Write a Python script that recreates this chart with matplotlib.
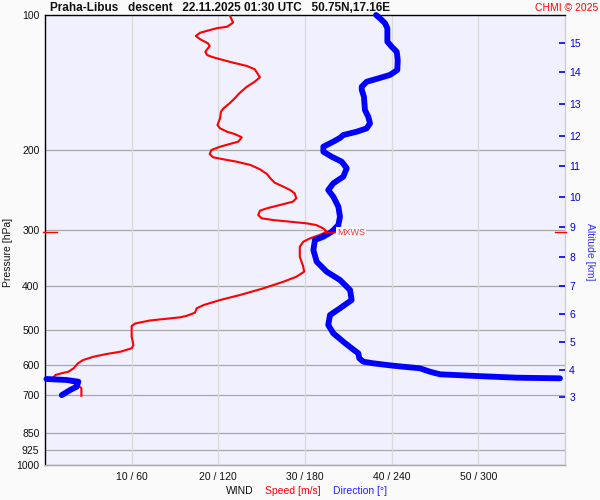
import numpy as np
import matplotlib
matplotlib.use("Agg")
import matplotlib.pyplot as plt
from matplotlib.ticker import NullLocator
from matplotlib.transforms import blended_transform_factory

plt.rcParams['font.family'] = ['Liberation Sans', 'DejaVu Sans']

# ---- data -----------------------------------------------------------
p_levels = [100, 200, 300, 400, 500, 600, 700, 850, 925, 1000]
speed_ticks = [10, 20, 30, 40, 50]
speed_tick_labels = ["10 / 60", "20 / 120", "30 / 180", "40 / 240", "50 / 300"]

p_speed = [100, 104.0, 106.2, 107.0, 109.5, 111.3, 113.2, 115.6, 117.2, 120.7,
           122.7, 123.8, 125.4, 127.6, 129.8, 132.0, 137.5, 140.7, 144.3, 148.8,
           153.1, 157.1, 161.2, 164.0, 169.6, 175.6, 178.6, 181.7, 183.9, 187.0,
           191.2, 193.5, 196.2, 199.5, 203.7, 207.1, 209.3, 211.8, 215.4, 220.2,
           225.6, 230.6, 235.9, 240.7, 244.9, 249.0, 255.5, 259.9, 264.4, 268.9,
           272.2, 278.3, 283.0, 285.5, 288.0, 290.4, 292.9, 297.9, 303.1, 308.2,
           313.5, 319.0, 327.3, 344.5, 362.6, 371.9, 381.6, 391.5, 404.9, 419.0,
           429.9, 441.1, 448.5, 458.7, 465.8, 469.7, 477.4, 484.8, 491.0, 501.2,
           518.6, 541.2, 550.4, 560.1, 566.7, 574.6, 584.4, 594.3, 609.7, 620.4,
           625.5, 631.0, 641.8, 647.3, 664.1, 675.5, 687.4, 701.6]
speed = [21.3, 21.7, 21.0, 19.8, 17.9, 17.4, 17.9, 18.8, 19.0, 18.5,
         18.7, 19.2, 20.2, 21.7, 23.3, 24.2, 24.8, 24.2, 23.3, 22.5,
         21.9, 21.3, 20.6, 20.3, 20.2, 19.9, 20.2, 21.0, 21.9, 22.7,
         22.3, 21.3, 20.2, 19.2, 19.0, 19.4, 20.6, 22.1, 23.7, 24.8,
         25.6, 26.0, 26.5, 27.5, 28.3, 28.8, 29.0, 28.6, 27.1, 25.6,
         24.8, 24.6, 25.0, 26.3, 28.3, 30.2, 31.3, 32.1, 32.5, 31.7,
         30.6, 29.8, 29.4, 29.4, 29.8, 29.9, 29.0, 27.5, 25.2, 22.5,
         20.2, 18.3, 17.5, 17.3, 16.4, 15.6, 12.1, 10.4, 10.0, 10.0,
         10.0, 10.2, 10.0, 8.7, 7.1, 5.6, 4.4, 3.8, 3.3, 2.7,
         1.9, 1.2, 0.9, 2.3, 3.8, 4.2, 4.2, 4.2]

p_dir = [100, 101.7, 104.3, 107.0, 114.6, 117.6, 120.7, 125.9, 132.5, 135.9,
         138.3, 140.7, 144.3, 146.8, 151.9, 162.6, 168.3, 174.1, 178.6, 181.7,
         184.8, 187.6, 191.2, 196.2, 201.3, 206.5, 211.8, 219.1, 228.7, 236.6,
         244.9, 253.4, 266.7, 280.7, 292.9, 303.1, 311.0, 316.2, 332.9, 353.4,
         371.9, 388.0, 408.5, 429.9, 448.5, 464.2, 488.5, 509.7, 532.1, 550.4,
         564.7, 579.3, 589.5, 594.3, 601.7, 609.7, 620.4, 628.7, 634.2, 639.7,
         641.8, 644.0, 647.3, 652.9, 670.0, 681.6, 699.4]
direction = [229.2, 231.9, 235.4, 237.0, 237.0, 240.0, 243.5, 244.2, 243.9, 238.8,
             230.8, 222.7, 219.3, 219.3, 220.8, 221.5, 223.8, 225.0, 222.7, 215.8,
             206.5, 204.2, 199.6, 192.7, 192.7, 198.5, 205.4, 208.9, 206.5, 199.6,
             196.1, 199.6, 203.1, 204.2, 203.1, 198.5, 192.7, 186.9, 185.8, 188.1,
             195.0, 204.2, 211.2, 212.3, 204.2, 197.3, 196.1, 199.6, 206.5, 212.3,
             216.9, 217.6, 220.4, 227.3, 241.1, 259.6, 266.5, 273.5, 298.9, 326.6,
             356.5, 1.0, 15.0, 23.1, 21.9, 17.3, 11.6]

alt_km = [3, 4, 5, 6, 7, 8, 9, 10, 11, 12, 13, 14, 15]
alt_p = [705.0, 614.1, 533.0, 461.8, 399.6, 345.0, 295.9, 253.4, 216.3, 185.4,
         157.6, 133.8, 115.2]

mxws_p = 303.1
mxws_speed = 32.5

# ---- figure ---------------------------------------------------------
W, H = 600, 500
fig = plt.figure(figsize=(6, 5), dpi=100, facecolor='#FAFAFA')
ax = fig.add_axes([45 / W, 1 - 465 / H, 520 / W, 450 / H])
ax.set_facecolor('#F0F0FF')
ax.set_yscale('log')
ax.set_ylim(1000, 100)
ax.set_xlim(0, 60)

for p in p_levels[1:]:
    ax.axhline(p, color='#A8A8A8', lw=0.9, zorder=1)
for s in speed_ticks:
    ax.axvline(s, color='#DADADA', lw=0.9, zorder=1)

ax.spines['left'].set_color('black')
ax.spines['top'].set_color('black')
ax.spines['right'].set_color('#D0D0D0')
ax.spines['bottom'].set_color('#A8A8A8')
for sp in ax.spines.values():
    sp.set_linewidth(1.0)

ax.set_yticks(p_levels)
ax.set_yticklabels([str(v) for v in p_levels])
ax.yaxis.set_minor_locator(NullLocator())
ax.set_xticks(speed_ticks)
ax.set_xticklabels(speed_tick_labels)
ax.tick_params(axis='both', length=0, labelsize=7.5, colors='#111111')
ax.tick_params(axis='y', pad=4)
ax.tick_params(axis='x', pad=5)

# speed line
ax.plot(speed, p_speed, color='#FF0000', lw=1.5, zorder=3)

# direction line (wrap around 360 -> break line)
d = np.array(direction, float)
pd_ = np.array(p_dir, float)
jumps = np.where(np.abs(np.diff(d)) > 180)[0]
d = np.insert(d, jumps + 1, np.nan)
pd_ = np.insert(pd_, jumps + 1, np.nan)

ax2 = ax.twiny()
ax2.set_xlim(0, 360)
ax2.set_xticks([])
for sp in ax2.spines.values():
    sp.set_visible(False)
ax2.plot(d, pd_, color='#0000FF', lw=4.2, solid_capstyle='round',
         solid_joinstyle='round', clip_on=False, zorder=4)

# MXWS marks
tr = blended_transform_factory(ax.transAxes, ax.transData)
ax2.plot([-0.004, 0.023], [mxws_p, mxws_p], transform=tr, color='#FF0000',
         lw=1.0, clip_on=False, zorder=6)
ax2.plot([0.981, 1.002], [mxws_p, mxws_p], transform=tr, color='#FF0000',
         lw=1.0, clip_on=False, zorder=6)
ax2.plot([mxws_speed * 6 - 2, mxws_speed * 6 + 6], [mxws_p, mxws_p],
         color='#FF0000', lw=1.0, zorder=6)
ax2.text(mxws_speed * 6 + 7, mxws_p * 1.005, 'MXWS', color='#FF3030', fontsize=6.5,
         va='center', ha='left', zorder=7,
         bbox=dict(facecolor='#F8F8FF', edgecolor='none', pad=0.6))

# altitude axis
ax3 = ax.twinx()
ax3.set_yscale('log')
ax3.set_ylim(1000, 100)
ax3.set_yticks(alt_p)
ax3.set_yticklabels([str(v) for v in alt_km])
ax3.yaxis.set_minor_locator(NullLocator())
ax3.tick_params(axis='y', direction='in', length=4.5, width=1.2, color='#0000DD',
                labelcolor='#0000DD', labelsize=7.5, pad=3)
for sp in ax3.spines.values():
    sp.set_visible(False)

# texts
def ft(x, y, s, **kw):
    fig.text(x / W, 1 - y / H, s, **kw)

ft(50, 8, 'Praha-Libus   descent   22.11.2025 01:30 UTC   50.75N,17.16E',
   fontsize=8.5, fontweight='bold', ha='left', va='center', color='#111111')
ft(598, 8, 'CHMI © 2025', fontsize=7.5, color='#FF0000', ha='right', va='center')
ft(8, 252, 'Pressure [hPa]', fontsize=7.5, rotation=90, ha='center', va='center',
   color='#111111')
ft(590, 252, 'Altitude [km]', fontsize=7.5, rotation=270, ha='center', va='center',
   color='#3333FF')
ft(240, 491, 'WIND', fontsize=7.5, ha='center', va='center', color='#111111')
ft(293, 491, 'Speed [m/s]', fontsize=7.5, ha='center', va='center', color='#FF0000')
ft(360, 491, 'Direction [°]', fontsize=7.5, ha='center', va='center', color='#2020FF')

fig.savefig('out.png', dpi=100, facecolor=fig.get_facecolor())
